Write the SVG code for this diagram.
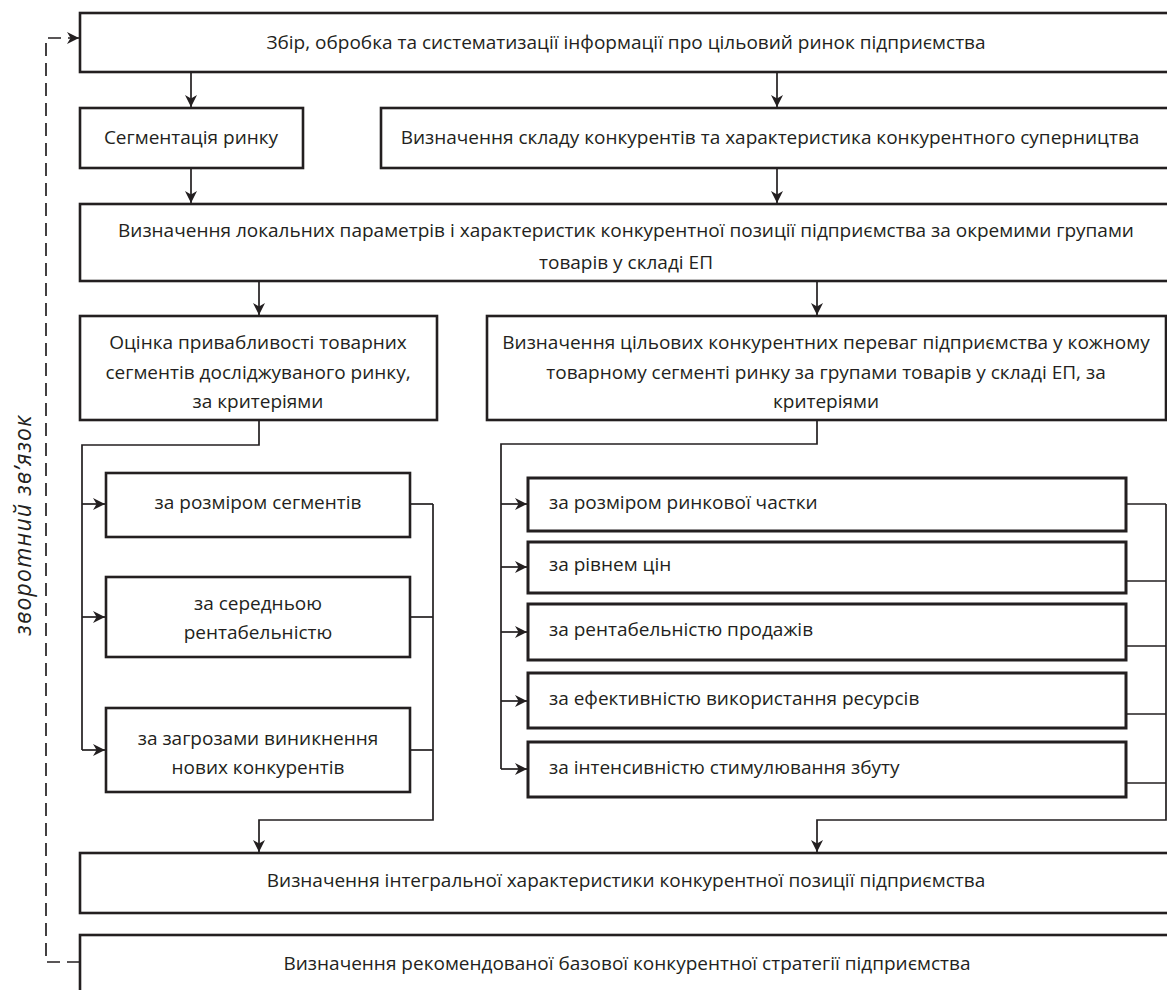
<svg xmlns="http://www.w3.org/2000/svg" width="1167" height="990" viewBox="0 0 1167 990">
  <style>
    .box { fill: #ffffff; stroke: #231f20; stroke-width: 2.6; }
    .sub { fill: #ffffff; stroke: #231f20; stroke-width: 3; }
    .lbl { font-family: "Open Sans", "Noto Sans", sans-serif; font-size: 19px; fill: #231f20; text-anchor: middle; dominant-baseline: central; }
    .left { text-anchor: start; }
    .link { fill: none; stroke: #231f20; stroke-width: 1.7; }
    .arrow { marker-end: url(#head); }
    .dash { fill: none; stroke: #231f20; stroke-width: 1.7; stroke-dasharray: 13 7; }
    .note { font-family: "Open Sans", "Noto Sans", sans-serif; font-size: 23px; letter-spacing: 1.2px; font-style: italic; fill: #231f20; text-anchor: middle; dominant-baseline: central; }
  </style>
  <defs>
    <marker id="head" viewBox="0 0 10 10" refX="10" refY="5" markerWidth="12" markerHeight="12" markerUnits="userSpaceOnUse" orient="auto">
      <path d="M0,0 L10,5 L0,10 L3,5 z" fill="#231f20"/>
    </marker>
  </defs>

  <rect width="1167" height="990" fill="#ffffff"/>

  <!-- connectors -->
  <g id="connectors">
    <path class="link arrow" d="M191,72 V107"/>
    <path class="link arrow" d="M777,72 V107"/>
    <path class="link arrow" d="M191,168 V203"/>
    <path class="link arrow" d="M777,168 V203"/>
    <path class="link arrow" d="M259,281 V315"/>
    <path class="link arrow" d="M817,281 V315"/>

    <!-- left criteria fan-out -->
    <path class="link" d="M259,420 V445 H82 V750"/>
    <path class="link arrow" d="M82,504 H105"/>
    <path class="link arrow" d="M82,617 H105"/>
    <path class="link arrow" d="M82,750 H105"/>

    <!-- right criteria fan-out -->
    <path class="link" d="M817,420 V444 H501 V769"/>
    <path class="link arrow" d="M501,504 H527"/>
    <path class="link arrow" d="M501,567 H527"/>
    <path class="link arrow" d="M501,632 H527"/>
    <path class="link arrow" d="M501,701 H527"/>
    <path class="link arrow" d="M501,769 H527"/>

    <!-- left criteria collector -->
    <path class="link" d="M410,504 H433"/>
    <path class="link" d="M410,617 H433"/>
    <path class="link" d="M410,750 H433"/>
    <path class="link arrow" d="M433,504 V820 H259 V852"/>

    <!-- right criteria collector -->
    <path class="link" d="M1126,504 H1166"/>
    <path class="link" d="M1126,581 H1166"/>
    <path class="link" d="M1126,646 H1166"/>
    <path class="link" d="M1126,714 H1166"/>
    <path class="link" d="M1126,783 H1166"/>
    <path class="link arrow" d="M1166,504 V820 H817 V852"/>

    <!-- feedback loop -->
    <path class="dash arrow" d="M80,962 H46 V38 H79"/>
  </g>
  <text class="note" transform="translate(22,525) rotate(-90)">зворотний зв’язок</text>

  <g id="collect-info">
    <rect class="box" x="80" y="13" width="1092" height="59"/>
    <text class="lbl" x="626" y="42">Збір, обробка та систематизації інформації про цільовий ринок підприємства</text>
  </g>

  <g id="segmentation">
    <rect class="box" x="80" y="108" width="223" height="60"/>
    <text class="lbl" x="191" y="137">Сегментація ринку</text>
  </g>

  <g id="competitors">
    <rect class="box" x="381" y="108" width="791" height="60"/>
    <text class="lbl" x="770" y="137">Визначення складу конкурентів та характеристика конкурентного суперництва</text>
  </g>

  <g id="local-params">
    <rect class="box" x="80" y="204" width="1092" height="77"/>
    <text class="lbl" x="626" y="230">Визначення локальних параметрів і характеристик конкурентної позиції підприємства за окремими групами</text>
    <text class="lbl" x="626" y="262">товарів у складі ЕП</text>
  </g>

  <g id="attractiveness">
    <rect class="box" x="80" y="316" width="357" height="104"/>
    <text class="lbl" x="258" y="342">Оцінка привабливості товарних</text>
    <text class="lbl" x="258" y="372">сегментів досліджуваного ринку,</text>
    <text class="lbl" x="258" y="401">за критеріями</text>
  </g>

  <g id="advantages">
    <rect class="box" x="487" y="316" width="679" height="104"/>
    <text class="lbl" x="826" y="342">Визначення цільових конкурентних переваг підприємства у кожному</text>
    <text class="lbl" x="826" y="372">товарному сегменті ринку за групами товарів у складі ЕП, за</text>
    <text class="lbl" x="826" y="401">критеріями</text>
  </g>

  <g id="seg-size">
    <rect class="box" x="106" y="473" width="304" height="64"/>
    <text class="lbl" x="258" y="502">за розміром сегментів</text>
  </g>

  <g id="seg-profit">
    <rect class="box" x="106" y="577" width="304" height="80"/>
    <text class="lbl" x="258" y="603">за середньою</text>
    <text class="lbl" x="258" y="632">рентабельністю</text>
  </g>

  <g id="seg-threats">
    <rect class="box" x="106" y="708" width="304" height="84"/>
    <text class="lbl" x="258" y="738">за загрозами виникнення</text>
    <text class="lbl" x="258" y="767">нових конкурентів</text>
  </g>

  <g id="adv-share">
    <rect class="sub" x="528" y="478" width="598" height="53"/>
    <text class="lbl left" x="549" y="502">за розміром ринкової частки</text>
  </g>

  <g id="adv-price">
    <rect class="sub" x="528" y="542" width="598" height="51"/>
    <text class="lbl left" x="549" y="564">за рівнем цін</text>
  </g>

  <g id="adv-profit">
    <rect class="sub" x="528" y="604" width="598" height="56"/>
    <text class="lbl left" x="549" y="629">за рентабельністю продажів</text>
  </g>

  <g id="adv-resources">
    <rect class="sub" x="528" y="673" width="598" height="55"/>
    <text class="lbl left" x="549" y="698">за ефективністю використання ресурсів</text>
  </g>

  <g id="adv-promotion">
    <rect class="sub" x="528" y="742" width="598" height="55"/>
    <text class="lbl left" x="549" y="767">за інтенсивністю стимулювання збуту</text>
  </g>

  <g id="integral">
    <rect class="box" x="80" y="853" width="1092" height="60"/>
    <text class="lbl" x="626" y="880">Визначення інтегральної характеристики конкурентної позиції підприємства</text>
  </g>

  <g id="strategy">
    <rect class="box" x="80" y="935" width="1092" height="70"/>
    <text class="lbl" x="627" y="963">Визначення рекомендованої базової конкурентної стратегії підприємства</text>
  </g>
</svg>
